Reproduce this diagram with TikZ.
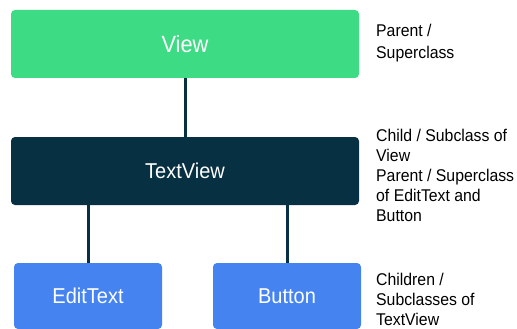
\documentclass[tikz,border=0pt]{standalone}
\usepackage{fontspec}
\setmainfont[FakeStretch=0.93]{Liberation Sans}
\usetikzlibrary{calc}

\definecolor{viewgreen}{HTML}{3DDC84}
\definecolor{navy}{HTML}{073042}
\definecolor{widgetblue}{HTML}{4583F1}

\tikzset{
  classbox/.style={rectangle,rounded corners=4pt,inner sep=0pt,minimum height=68pt,text=white,font=\fontsize{21.5}{24}\selectfont},
  note/.style={anchor=north west,inner sep=0pt,align=left,font=\fontsize{17}{20.2}\selectfont},
  link/.style={navy,line width=3pt}
}

\begin{document}
\begin{tikzpicture}[x=1pt,y=-1pt]
\useasboundingbox (0,0) rectangle (517,329);

\coordinate (VC) at (185,44);
\coordinate (TC) at (185,171);
\coordinate (EC) at (88,296);
\coordinate (BC) at (287,296);

\node[classbox,fill=viewgreen,minimum width=348pt,font=\fontsize{23.5}{26}\selectfont] (view) at (VC) {View};
\node[classbox,fill=navy,minimum width=348pt] (textview) at (TC) {TextView};
\node[classbox,fill=widgetblue,minimum width=148pt,minimum height=66pt] (edittext) at (EC) {EditText};
\node[classbox,fill=widgetblue,minimum width=148pt,minimum height=66pt] (button) at (BC) {Button};

\node[note,font=\fontsize{17}{21.5}\selectfont] (n1) at (376,24) {Parent /\\Superclass};
\node[note] (n2) at (376,128.5) {Child / Subclass of\\View\\Parent / Superclass\\of EditText and\\Button};
\node[note] (n3) at (376,273) {Children /\\Subclasses of\\TextView};

\draw[link] (view.south) -- (textview.north);
\draw[link] (textview.south -| edittext.north) -- (edittext.north);
\draw[link] (textview.south -| button.north) -- (button.north);

\end{tikzpicture}
\end{document}
